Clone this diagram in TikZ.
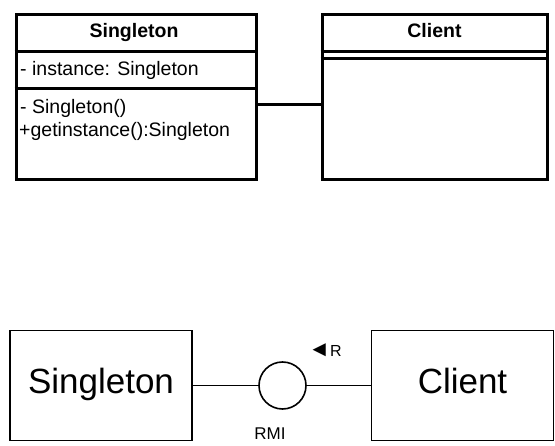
\documentclass[tikz,border=0pt]{standalone}
\usepackage{fontspec}
\setmainfont{Liberation Sans}
\begin{document}
\begin{tikzpicture}[x=1pt,y=-1pt,
		classbox/.style={draw,line width=3pt,minimum height=165pt,inner sep=0pt},
		smallfont/.style={font=\fontsize{19.5}{23}\selectfont,inner sep=0pt},
		headfont/.style={font=\bfseries\fontsize{19.5}{22}\selectfont,inner sep=0pt,anchor=base},
		plainbox/.style={draw,line width=1.8pt,minimum width=182pt,minimum height=110pt,text height=25pt,text depth=8pt,font=\fontsize{35}{40}\selectfont},
		lollipop/.style={draw,circle,line width=1.6pt,minimum size=47pt,inner sep=0pt}]
	\useasboundingbox (0,0) rectangle (555,446);
	% class diagram
	\node[classbox,minimum width=240pt] (single) at (136,97.5) {};
	\node[classbox,minimum width=225pt] (client) at (434.5,97) {};
	\draw[line width=3pt] (single.west |- 0,52) -- (single.east |- 0,52);
	\draw[line width=3pt] (single.west |- 0,89) -- (single.east |- 0,89);
	\draw[line width=3pt] (client.west |- 0,52) -- (client.east |- 0,52);
	\draw[line width=3pt] (client.west |- 0,59) -- (client.east |- 0,59);
	\node[headfont] (singlename) at (134,38) {Singleton};
	\node[headfont] (clientname) at (434.5,38) {Client};
	\node[smallfont,anchor=west] (attr) at (20,70) {- instance: Singleton};
	\node[smallfont,anchor=west] (ctor) at (20,108) {- Singleton()};
	\node[smallfont,anchor=west] (getinst) at (19,131) {+getinstance():Singleton};
	\coordinate (link) at (0,105);
	\draw[line width=3pt] (single.east |- link) -- (client.west |- link);
	% component diagram
	\node[plainbox] (singleb) at (101,385.5) {Singleton};
	\node[plainbox] (clientb) at (462.5,385.5) {Client};
	\node[lollipop] (rmi) at (282.5,385.5) {};
	\draw[line width=0.9pt] (singleb) -- (rmi) -- (clientb);
	\node[font=\fontsize{16}{18}\selectfont,inner sep=0pt,anchor=base] (dir) at (325,357) {{\fontsize{22}{22}\selectfont ◄}R};
	\node[font=\fontsize{17}{20}\selectfont,inner sep=0pt,anchor=base] (rmilabel) at (270,440) {RMI};
\end{tikzpicture}
\end{document}
